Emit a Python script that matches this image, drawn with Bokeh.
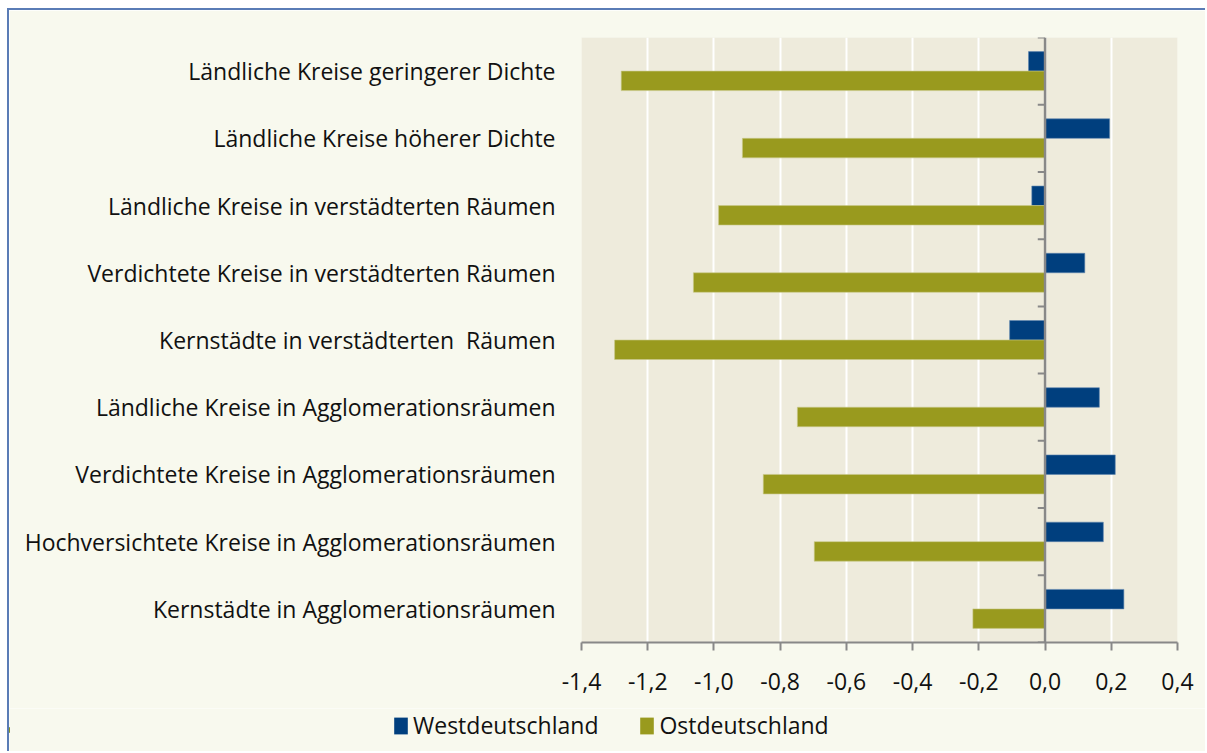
from bokeh.plotting import figure
from bokeh.models import (FactorRange, Span, FixedTicker, CustomJSTickFormatter,
                          Legend, LegendItem, ColumnDataSource)
from bokeh.transform import dodge
from bokeh.embed import file_html
from bokeh.resources import INLINE

categories = [
    "Ländliche Kreise geringerer Dichte",
    "Ländliche Kreise höherer Dichte",
    "Ländliche Kreise in verstädterten Räumen",
    "Verdichtete Kreise in verstädterten Räumen",
    "Kernstädte in verstädterten\u00a0 Räumen",
    "Ländliche Kreise in Agglomerationsräumen",
    "Verdichtete Kreise in Agglomerationsräumen",
    "Hochversichtete Kreise in Agglomerationsräumen",
    "Kernstädte in Agglomerationsräumen",
]
west = [-0.05, 0.195, -0.04, 0.12, -0.107, 0.164, 0.212, 0.176, 0.238]
ost = [-1.28, -0.914, -0.986, -1.062, -1.30, -0.748, -0.851, -0.697, -0.218]
x_ticks = [-1.4, -1.2, -1.0, -0.8, -0.6, -0.4, -0.2, 0.0, 0.2, 0.4]
series = ["Westdeutschland", "Ostdeutschland"]

FONT = "Open Sans"
FS = "23px"
BLUE = "#003F7E"
OLIVE = "#999A1E"
CREAM = "#F8F9EE"
FRAME = "2px solid #5A7CB6"

src = ColumnDataSource(dict(cat=categories, west=west, ost=ost))

p = figure(width=1198, height=700, output_backend="svg", toolbar_location=None,
           y_range=FactorRange(*reversed(categories)), x_range=(-1.4, 0.4),
           min_border_left=572, min_border_right=30, min_border_top=27,
           min_border_bottom=68)
p.styles = {"margin-top": "8px", "margin-left": "7px",
            "border-left": FRAME, "border-top": FRAME}
p.background_fill_color = "#EEEBDC"
p.border_fill_color = CREAM
p.outline_line_color = None

p.hbar(y=dodge("cat", 0.145, range=p.y_range), right="west", left=0, height=0.29,
       source=src, fill_color=BLUE, line_color="#5F86B0", line_width=0.6)
p.hbar(y=dodge("cat", -0.145, range=p.y_range), right="ost", left=0, height=0.29,
       source=src, fill_color=OLIVE, line_color="#C9C98A", line_width=0.6)

# grid
p.ygrid.visible = False
p.xgrid.grid_line_color = "white"
p.xgrid.grid_line_width = 2
p.xgrid.ticker = FixedTicker(ticks=x_ticks)

# x axis
xa = p.xaxis[0]
xa.ticker = FixedTicker(ticks=x_ticks)
xa.formatter = CustomJSTickFormatter(code="return tick.toFixed(1).replace('.', ',');")
xa.axis_line_color = "#888888"
xa.axis_line_width = 2
xa.major_tick_line_color = "#888888"
xa.major_tick_line_width = 2
xa.major_tick_in = 0
xa.major_tick_out = 8
xa.minor_tick_line_color = None
xa.major_label_text_font = FONT
xa.major_label_text_font_size = FS
xa.major_label_text_color = "#111111"
xa.major_label_standoff = 22

# y axis (labels only)
ya = p.yaxis[0]
ya.axis_line_color = None
ya.major_tick_line_color = None
ya.minor_tick_line_color = None
ya.major_label_text_font = FONT
ya.major_label_text_font_size = FS
ya.major_label_text_color = "#111111"
ya.major_label_standoff = 20

# zero line with category tick marks
p.add_layout(Span(location=0, dimension="height", line_color="#888888", line_width=2.5))
bounds_y = [(c, -0.5) for c in categories] + [(categories[0], 0.5)]
p.segment(x0=[-0.022] * len(bounds_y), x1=[0] * len(bounds_y), y0=bounds_y, y1=bounds_y,
          line_color="#888888", line_width=2)

# legend strip (separate root, so its frame spans the full width)
lf = figure(width=1198, height=43, output_backend="svg", toolbar_location=None,
            x_axis_location=None, y_axis_location=None, x_range=(5, 6), y_range=(0, 1),
            min_border=0)
lf.styles = {"margin-left": "7px", "border-left": FRAME}
lf.grid.visible = False
lf.outline_line_color = None
lf.background_fill_color = CREAM
lf.border_fill_color = CREAM
# same data as the chart, drawn outside this strip's ranges: only used as legend swatches
lw = lf.hbar(y=0.5, left=0, right="west", height=0.1, source=src, fill_color=BLUE, line_color=None)
lo = lf.hbar(y=0.5, left=0, right="ost", height=0.1, source=src, fill_color=OLIVE, line_color=None)
legend = Legend(items=[LegendItem(label=series[0], renderers=[lw]),
                       LegendItem(label=series[1], renderers=[lo])],
                orientation="horizontal", location=(383, 10),
                glyph_width=17, glyph_height=21, label_standoff=4, spacing=40,
                padding=0, margin=0, background_fill_alpha=0, border_line_color=None,
                label_text_font=FONT, label_text_font_size=FS,
                label_text_color="#111111")
lf.add_layout(legend, "center")

open("out.html", "w").write(file_html([p, lf], INLINE))
